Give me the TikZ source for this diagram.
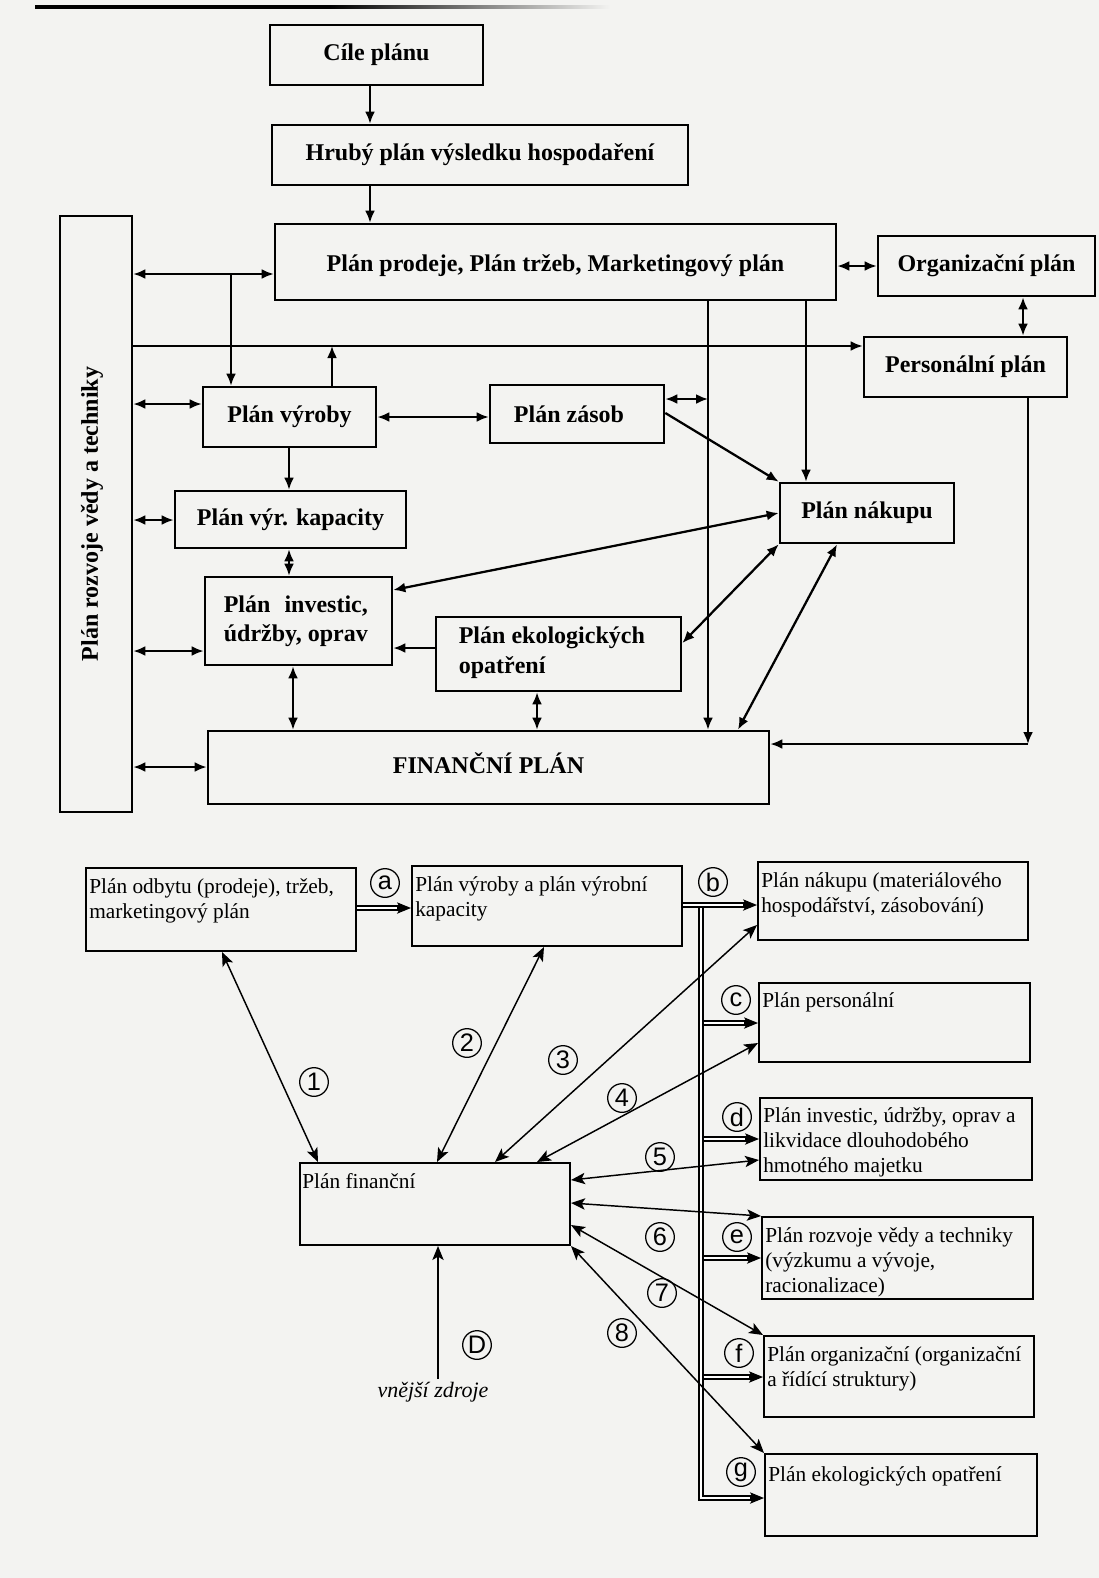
\documentclass[tikz,border=0pt]{standalone}
\usepackage{fontspec}
\setmainfont{Liberation Serif}
\newfontfamily\circfont{Liberation Sans}
\usepackage{calc}
\usetikzlibrary{arrows.meta,fit,calc}
\definecolor{paper}{RGB}{243,243,241}

\tikzset{
  tbox/.style={draw, line width=2pt, inner sep=0pt},
  ttext/.style={inner sep=0pt, align=center,
    font=\bfseries\fontsize{18}{22}\selectfont},
  bbox/.style={draw, line width=1.5pt, inner sep=0pt},
  btext/.style={anchor=north west, inner sep=0pt, align=left,
    font=\fontsize{16}{19}\selectfont},
  ttip/.tip={Latex[length=9pt,width=7.5pt]},
  btip/.tip={Stealth[length=10.5pt,width=8.5pt,inset=2.5pt]},
  tcon/.style={line width=1.7pt, -ttip},
  tcon2/.style={line width=1.7pt, ttip-ttip},
  bcon/.style={line width=1.1pt, -btip},
  bcon2/.style={line width=1.1pt, btip-btip},
  dbl/.style={double, line width=0.85pt, double distance=2.2pt},
  dtip/.style={line width=0.85pt, -btip},
  circlab/.style={circle, draw, line width=0.95pt, minimum size=21.5pt,
    inner sep=0pt, font=\circfont\fontsize{19}{19}\selectfont},
}
% double line ending in a solid arrow tip
\newcommand\dblarrow[2]{%
  \draw[dbl, shorten >=7pt] (#1) -- (#2);
  \draw[dtip] ($(#2)!10.5pt!(#1)$) -- (#2);}

\begin{document}
\begin{tikzpicture}[x=0.75pt,y=-0.75pt]
\fill[paper] (0,0) rectangle (1099,1578);
\useasboundingbox (0,0) rectangle (1099,1578);

% header rule
\fill[black] (35,5) rectangle (330,8.5);
\shade[left color=black, right color=paper] (330,5) rectangle (610,8.5);

% ---------------- upper scheme ----------------
\node[tbox, fit={(270,25) (483,85)}] (cile) {};
\node[tbox, fit={(272,125) (688,185)}] (hruby) {};
\node[tbox, fit={(275,224) (836,300)}] (prodej) {};
\node[tbox, fit={(878,236) (1095,296)}] (org) {};
\node[tbox, fit={(60,216) (132,812)}] (rozvoj) {};
\node[tbox, fit={(864,337) (1067,397)}] (pers) {};
\node[tbox, fit={(203,387) (376,447)}] (vyroba) {};
\node[tbox, fit={(490,385) (664,443)}] (zasob) {};
\node[tbox, fit={(175,491) (406,548)}] (kapac) {};
\node[tbox, fit={(780,483) (954,543)}] (nakup) {};
\node[tbox, fit={(205,577) (392,665)}] (invest) {};
\node[tbox, fit={(436,617) (681,691)}] (ekol) {};
\node[tbox, fit={(208,731) (769,804)}] (fin) {};

\node[ttext] (cileT) at (cile.center) {Cíle plánu};
\node[ttext] (hrubyT) at (hruby.center) {Hrubý plán výsledku hospodaření};
\node[ttext] (prodejT) at ([yshift=-2.5pt]prodej.center) {Plán prodeje, Plán tržeb, Marketingový plán};
\node[ttext] (orgT) at (org.center) {Organizační plán};
\node[ttext, rotate=90] (rozvojT) at (92,514) {Plán rozvoje vědy a techniky};
\node[ttext] (persT) at (pers.center) {Personální plán};
\node[ttext] (vyrobaT) at (vyroba.center) {Plán výroby};
\node[ttext] (zasobT) at ([xshift=-6pt]zasob.center) {Plán zásob};
\node[ttext] (kapacT) at (kapac.center) {Plán výr. kapacity};
\node[ttext] (nakupT) at (nakup.center) {Plán nákupu};
\node[ttext, align=left] (investT) at ([xshift=-2pt]invest.center)
  {\makebox[\widthof{údržby, oprav}][s]{Plán investic,}\\údržby, oprav};
\node[ttext, align=left] (ekolT) at ([xshift=-5pt,yshift=1pt]ekol.center) {Plán ekologických\\opatření};
\node[ttext] (finT) at ([yshift=3pt]fin.center) {FINANČNÍ PLÁN};

% guide positions for the connectors
\coordinate (v231) at (231,0);
\coordinate (v289) at (289,0);
\coordinate (v293) at (293,0);
\coordinate (v332) at (332,0);
\coordinate (v370) at (370,0);
\coordinate (v537) at (537,0);
\coordinate (v708) at (708,0);
\coordinate (v738) at (738,0);
\coordinate (v806) at (806,0);
\coordinate (v837) at (837,0);
\coordinate (v1023) at (1023,0);
\coordinate (h266) at (0,266);
\coordinate (h274) at (0,274);
\coordinate (h346) at (0,346);
\coordinate (h399) at (0,399);
\coordinate (h404) at (0,404);
\coordinate (h413) at (0,413);
\coordinate (h417) at (0,417);
\coordinate (h513) at (0,513);
\coordinate (h520) at (0,520);
\coordinate (h590) at (0,590);
\coordinate (h643) at (0,643);
\coordinate (h648) at (0,648);
\coordinate (h651) at (0,651);
\coordinate (h767) at (0,767);
\coordinate (corner) at (1028,744);

\draw[tcon] (cile.south -| v370) -- (hruby.north -| v370);
\draw[tcon] (hruby.south -| v370) -- (prodej.north -| v370);
\draw[tcon2] (rozvoj.east |- h274) -- (prodej.west |- h274);
\draw[tcon2] (prodej.east |- h266) -- (org.west |- h266);
\draw[tcon] (v231 |- h274) -- (vyroba.north -| v231);
\draw[tcon] (rozvoj.east |- h346) -- (pers.west |- h346);
\draw[tcon] (vyroba.north -| v332) -- (v332 |- h346);
\draw[tcon2] (org.south -| v1023) -- (pers.north -| v1023);
\draw[tcon2] (rozvoj.east |- h404) -- (vyroba.west |- h404);
\draw[tcon2] (vyroba.east |- h417) -- (zasob.west |- h417);
\draw[tcon2] (zasob.east |- h399) -- (v708 |- h399);
\draw[tcon] (prodej.south -| v708) -- (fin.north -| v708);
\draw[tcon] (prodej.south -| v806) -- (nakup.north -| v806);
\draw[tcon] (zasob.east |- h413) -- (nakup.north west);
\draw[tcon] (vyroba.south -| v289) -- (kapac.north -| v289);
\draw[tcon2] (rozvoj.east |- h520) -- (kapac.west |- h520);
\draw[tcon2] (kapac.south -| v289) -- (invest.north -| v289);
\draw[tcon2] (nakup.west |- h513) -- (invest.east |- h590);
\draw[tcon2] (rozvoj.east |- h651) -- (invest.west |- h651);
\draw[tcon] (ekol.west |- h648) -- (invest.east |- h648);
\draw[tcon2] (nakup.south west) -- (ekol.east |- h643);
\draw[tcon2] (nakup.south -| v837) -- (fin.north -| v738);
\draw[tcon2] (invest.south -| v293) -- (fin.north -| v293);
\draw[tcon2] (ekol.south -| v537) -- (fin.north -| v537);
\draw[tcon] (pers.south -| corner) -- (corner);
\draw[tcon] (corner) -- (fin.east |- corner);
\draw[tcon2] (rozvoj.east |- h767) -- (fin.west |- h767);

% ---------------- lower scheme ----------------
\node[bbox, fit={(86,868) (356,951)}] (odbyt) {};
\node[bbox, fit={(412,866) (682,946)}] (vyrkap) {};
\node[bbox, fit={(758,862) (1028,940)}] (nakupB) {};
\node[bbox, fit={(759,983) (1030,1062)}] (persB) {};
\node[bbox, fit={(760,1098) (1032,1180)}] (investB) {};
\node[bbox, fit={(762,1217) (1033,1299)}] (rozvojB) {};
\node[bbox, fit={(764,1336) (1034,1417)}] (orgB) {};
\node[bbox, fit={(765,1454) (1037,1536)}] (ekolB) {};
\node[bbox, fit={(300,1163) (570,1245)}] (finB) {};

\node[btext] (odbytT) at ($(odbyt.north west)+(4,11)$) {Plán odbytu (prodeje), tržeb,\\marketingový plán};
\node[btext] (vyrkapT) at ($(vyrkap.north west)+(4,11)$) {Plán výroby a plán výrobní\\kapacity};
\node[btext] (nakupBT) at ($(nakupB.north west)+(4,11)$) {Plán nákupu (materiálového\\hospodářství, zásobování)};
\node[btext] (persBT) at ($(persB.north west)+(4,10)$) {Plán personální};
\node[btext] (investBT) at ($(investB.north west)+(4,10)$) {Plán investic, údržby, oprav a\\likvidace dlouhodobého\\hmotného majetku};
\node[btext] (rozvojBT) at ($(rozvojB.north west)+(4,11)$) {Plán rozvoje vědy a techniky\\(výzkumu a vývoje,\\racionalizace)};
\node[btext] (orgBT) at ($(orgB.north west)+(4,11)$) {Plán organizační (organizační\\a řídící struktury)};
\node[btext] (ekolBT) at ($(ekolB.north west)+(4,13)$) {Plán ekologických opatření};
\node[btext] (finBT) at ($(finB.north west)+(3,11)$) {Plán finanční};
\node[inner sep=2pt, font=\itshape\fontsize{16.5}{19}\selectfont] (vnejsi) at (433,1392) {vnější zdroje};

% double-line flow
\coordinate (h905) at (0,905);
\coordinate (h908) at (0,908);
\coordinate (bx) at (703.5,0);
\coordinate (pA) at (odbyt.east |- h908);
\coordinate (pB) at (vyrkap.west |- h908);
\dblarrow{pA}{pB}
\coordinate (btop) at (701,905);
\coordinate (bbot) at (701,1498);
\coordinate (gEnd) at (ekolB.west |- bbot);
\draw[dbl, shorten >=7pt] (btop) -- (bbot) -- (gEnd);
\draw[dtip] ($(gEnd)!10.5pt!(bbot)$) -- (gEnd);
\coordinate (b0) at (vyrkap.east |- h905);
\coordinate (b1) at (nakupB.west |- h905);
\dblarrow{b0}{b1}
\coordinate (c0) at (bx |- 0,1023);
\coordinate (c1) at (persB.west |- c0);
\dblarrow{c0}{c1}
\coordinate (d0) at (bx |- 0,1139);
\coordinate (d1) at (investB.west |- d0);
\dblarrow{d0}{d1}
\coordinate (e0) at (bx |- 0,1258);
\coordinate (e1) at (rozvojB.west |- e0);
\dblarrow{e0}{e1}
\coordinate (f0) at (bx |- 0,1377);
\coordinate (f1) at (orgB.west |- f0);
\dblarrow{f0}{f1}

% links of the financial plan
\coordinate (v222) at (222,0);
\coordinate (v318) at (318,0);
\coordinate (v437) at (437,0);
\coordinate (v438) at (438,0);
\coordinate (v495) at (495,0);
\coordinate (v544) at (544,0);
\coordinate (v537b) at (537,0);
\coordinate (h925) at (0,925);
\coordinate (h1043) at (0,1043);
\coordinate (h1160) at (0,1160);
\coordinate (h1180) at (0,1180);
\coordinate (h1203) at (0,1203);
\coordinate (h1225) at (0,1225);

\draw[bcon2] (finB.north -| v318) -- (odbyt.south -| v222);
\draw[bcon2] (finB.north -| v437) -- (vyrkap.south -| v544);
\draw[bcon2] (finB.north -| v495) -- (nakupB.west |- h925);
\draw[bcon2] (finB.north -| v537b) -- (persB.west |- h1043);
\draw[bcon2] (finB.east |- h1180) -- (investB.west |- h1160);
\draw[bcon2] (finB.east |- h1203) -- (rozvojB.north west);
\draw[bcon2] (finB.east |- h1225) -- (orgB.north west);
\draw[bcon2] (finB.south east) -- (ekolB.north west);
\draw[bcon] (vnejsi.north -| v438) -- (finB.south -| v438);

% circled labels
\node[circlab] (la) at (385,883) {a};
\node[circlab] (lb) at (713,882) {b};
\node[circlab] (lc) at (736,1000) {c};
\node[circlab] (ld) at (737,1117) {d};
\node[circlab] (le) at (737,1237) {e};
\node[circlab] (lf) at (739,1353) {f};
\node[circlab] (lg) at (741,1472) {g};
\node[circlab] (l1) at (314,1082) {1};
\node[circlab] (l2) at (467,1043) {2};
\node[circlab] (l3) at (563,1060) {3};
\node[circlab] (l4) at (622,1098) {4};
\node[circlab] (l5) at (660,1157) {5};
\node[circlab] (l6) at (660,1237) {6};
\node[circlab] (l7) at (662,1293) {7};
\node[circlab] (l8) at (622,1333) {8};
\node[circlab] (lD) at (477,1345) {D};
\end{tikzpicture}
\end{document}
